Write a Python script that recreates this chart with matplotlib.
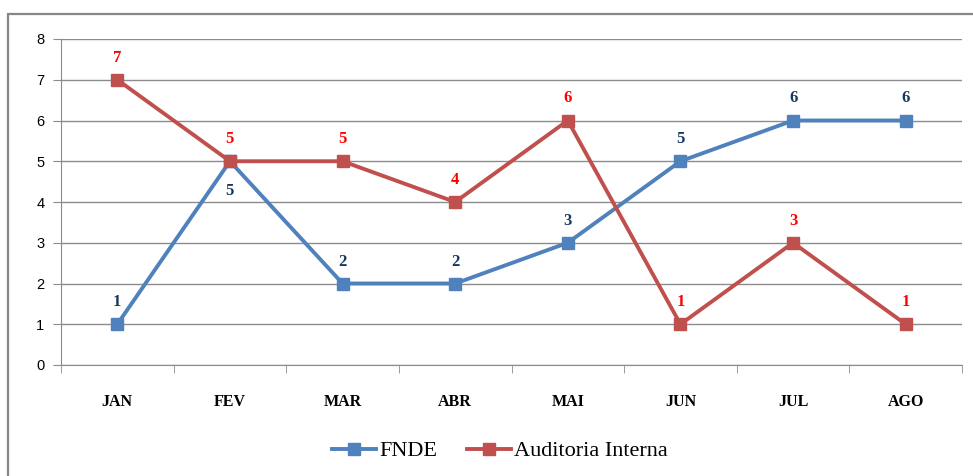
import matplotlib
matplotlib.use("Agg")
import matplotlib.pyplot as plt
import matplotlib.patches as mpatches

MONTHS = ["JAN", "FEV", "MAR", "ABR", "MAI", "JUN", "JUL", "AGO"]
FNDE = [1, 5, 2, 2, 3, 5, 6, 6]
AUDITORIA = [7, 5, 5, 4, 6, 1, 3, 1]
# label below the point for these FNDE indexes
FNDE_BELOW = [1]

BLUE = "#4F81BD"
RED = "#C0504D"
GRID = "#8C8C8C"

fig = plt.figure(figsize=(9.73, 4.76), dpi=100)
fig.patch.set_facecolor("white")
fig.add_artist(mpatches.Rectangle((8 / 973, -0.05), 1.0, 1 - 14 / 476 + 0.05,
                                  transform=fig.transFigure, fill=False,
                                  edgecolor="#868686", linewidth=1.6))

ax = fig.add_axes([61 / 973, 1 - 365 / 476, (962 - 61) / 973, (365 - 39) / 476])
x = list(range(len(MONTHS)))

ax.plot(x, FNDE, color=BLUE, lw=2.8, marker="s", ms=8, label="FNDE", zorder=3)
ax.plot(x, AUDITORIA, color=RED, lw=2.8, marker="s", ms=8, label="Auditoria Interna", zorder=3)

lab_kw = dict(ha="center", fontsize=12, fontweight="bold", family="Liberation Serif")
for i, v in enumerate(FNDE):
    if i in FNDE_BELOW:
        ax.annotate(str(v), (i, v), xytext=(0, -22), textcoords="offset pixels",
                    va="top", color="#17375E", **lab_kw)
    else:
        ax.annotate(str(v), (i, v), xytext=(0, 14), textcoords="offset pixels",
                    va="bottom", color="#17375E", **lab_kw)
for i, v in enumerate(AUDITORIA):
    ax.annotate(str(v), (i, v), xytext=(0, 14), textcoords="offset pixels",
                va="bottom", color="#FF0000", **lab_kw)

ax.set_xlim(-0.5, len(MONTHS) - 0.5)
ax.set_ylim(0, 8)
ax.set_yticks(range(0, 9))
ax.yaxis.grid(True, color=GRID, lw=1)
ax.set_axisbelow(True)
for s in ["top", "right"]:
    ax.spines[s].set_visible(False)
for s in ["left", "bottom"]:
    ax.spines[s].set_color(GRID)
ax.set_xticks(x)
ax.set_xticklabels(MONTHS, fontsize=11.5, fontweight="bold", family="Liberation Serif")
ax.tick_params(axis="x", length=0, pad=21)
ax.set_xticks([i - 0.5 for i in range(len(MONTHS) + 1)], minor=True)
ax.tick_params(axis="x", which="minor", length=6, color=GRID, direction="out")
ax.tick_params(axis="y", length=6, color=GRID, labelsize=10.5, pad=6)
for t in ax.get_yticklabels():
    t.set_family("Liberation Sans")

leg = ax.legend(loc="center", bbox_to_anchor=(500 / 973, 1 - 451 / 476),
                bbox_transform=fig.transFigure, ncol=2, frameon=False,
                prop={"family": "Liberation Serif", "size": 16},
                handlelength=2.0, columnspacing=1.3, handletextpad=0.15)

fig.savefig("out.png", dpi=100)
